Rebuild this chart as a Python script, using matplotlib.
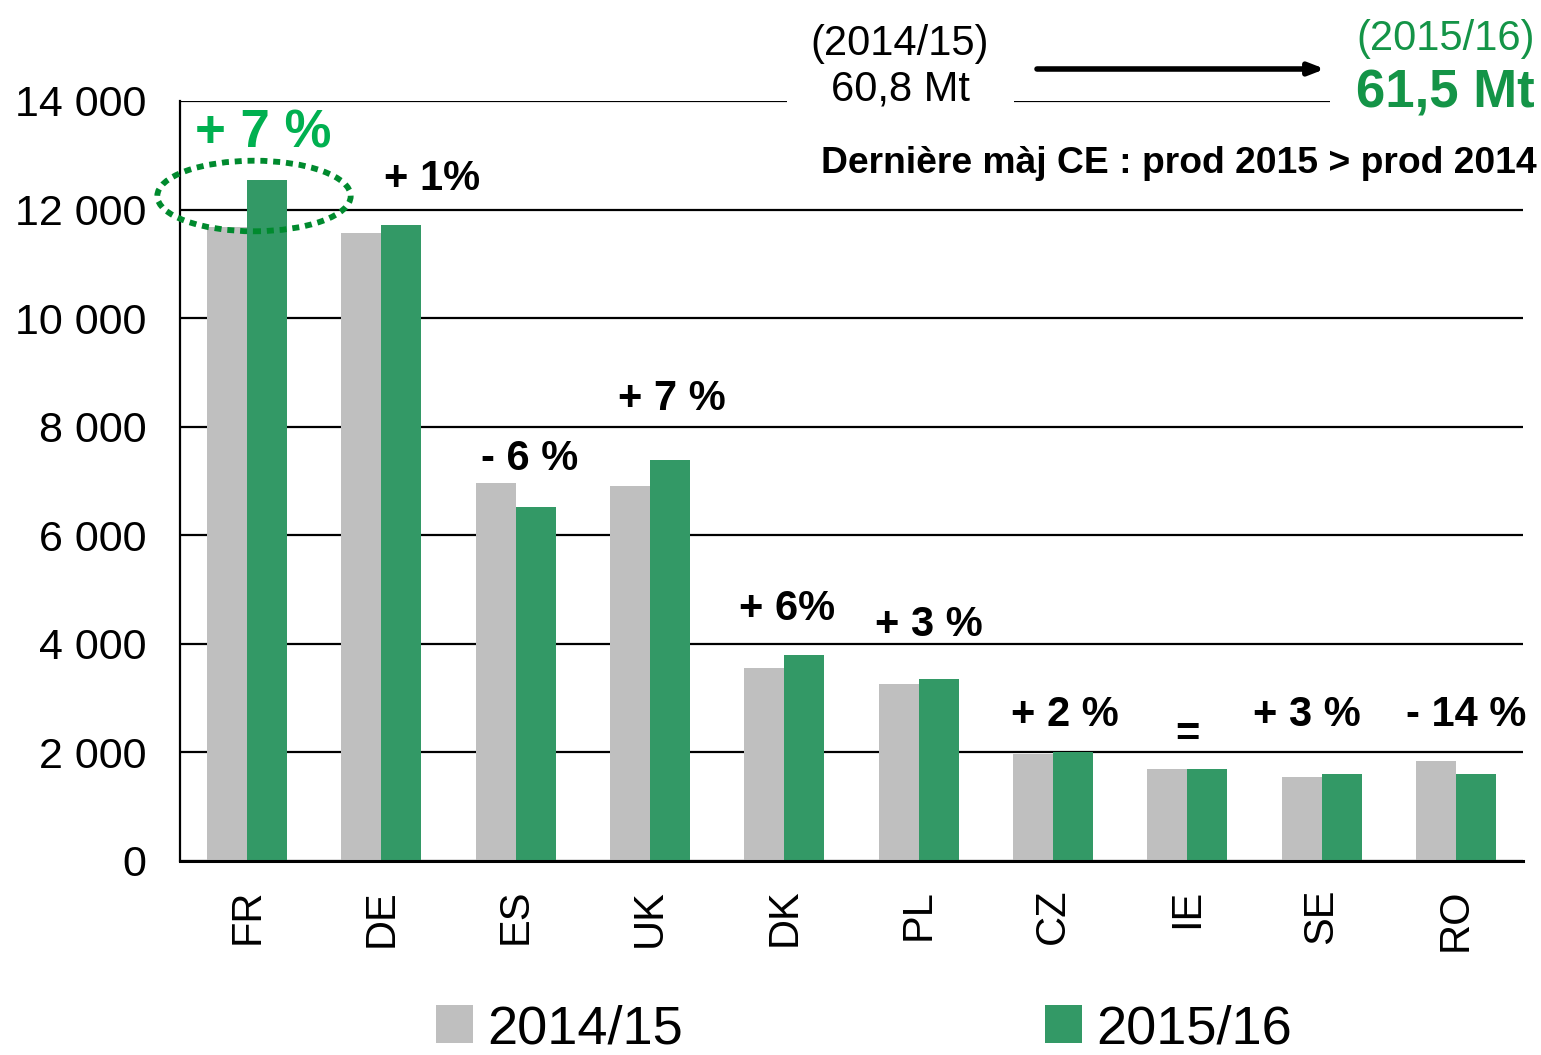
import matplotlib
matplotlib.use("Agg")
import matplotlib.pyplot as plt
from matplotlib.patches import Ellipse, Rectangle
import numpy as np

plt.rcParams['font.family'] = ['Liberation Sans', 'DejaVu Sans']

countries = ["FR", "DE", "ES", "UK", "DK", "PL", "CZ", "IE", "SE", "RO"]
prod_2014 = [11680, 11570, 6960, 6910, 3560, 3260, 1970, 1700, 1550, 1840]
prod_2015 = [12540, 11720, 6520, 7390, 3790, 3350, 2000, 1700, 1600, 1600]
series_labels = ["2014/15", "2015/16"]
change_labels = ["+ 7 %", "+ 1%", "- 6 %", "+ 7 %", "+ 6%", "+ 3 %", "+ 2 %", "=", "+ 3 %", "- 14 %"]
yticks = [0, 2000, 4000, 6000, 8000, 10000, 12000, 14000]
ytick_labels = ["0", "2 000", "4 000", "6 000", "8 000", "10 000", "12 000", "14 000"]

# label anchor positions (x in category units, y = baseline in data units)
label_x = [0.12, 1.376, 2.106, 3.163, 4.02, 5.077, 6.09, 6.998, 7.89, 9.076]
label_y = [13150, 12360, 7200, 8300, 4440, 4145, 2490, 2120, 2490, 2490]

GRAY = "#BFBFBF"
GREEN = "#339966"
BRIGHT_GREEN = "#00B050"
DARK_GREEN = "#149447"

W, H = 1541, 1055
fig = plt.figure(figsize=(W / 100, H / 100), dpi=100)
ax = fig.add_axes([180 / W, 1 - 861 / H, (1523 - 180) / W, (861 - 101) / H])

x = np.arange(len(countries))
bw = 0.298
ax.bar(x - bw / 2, prod_2014, bw, color=GRAY, label=series_labels[0], zorder=2)
ax.bar(x + bw / 2, prod_2015, bw, color=GREEN, label=series_labels[1], zorder=2)

ax.set_xlim(-0.5, 9.5)
ax.set_ylim(0, 14000)
ax.set_yticks(yticks)
ax.set_yticklabels(ytick_labels, fontsize=31)
ax.set_xticks(x)
ax.set_xticklabels(countries, rotation=90, fontsize=30)
ax.tick_params(axis='y', length=0, pad=24)
ax.tick_params(axis='x', length=0, pad=20)
ax.yaxis.grid(True, color='black', lw=1.6)
ax.set_axisbelow(True)
for s in ["top", "right"]:
    ax.spines[s].set_visible(False)
ax.spines["left"].set_linewidth(1.6)
ax.spines["bottom"].set_linewidth(2.2)

for i, (lab, lx, ly) in enumerate(zip(change_labels, label_x, label_y)):
    if i == 0:
        ax.text(lx, ly, lab, ha='center', va='baseline', fontsize=38,
                fontweight='bold', color=BRIGHT_GREEN)
    else:
        ax.text(lx, ly, lab, ha='center', va='baseline', fontsize=30,
                fontweight='bold', color='black')

ell = Ellipse((0.051, 12250), 1.44, 1300, fill=False, edgecolor="#008A2E",
              lw=4.2, linestyle=(0, (1.2, 1.0)), clip_on=False, zorder=4)
ax.add_patch(ell)

# white gaps in the top line under the header texts
for x0, x1 in [(787, 1014), (1330, 1541)]:
    fig.add_artist(Rectangle((x0 / W, 1 - 106 / H), (x1 - x0) / W, 10 / H,
                             transform=fig.transFigure, facecolor='white',
                             edgecolor='none', zorder=5))

fig.text(900 / W, 1 - 55 / H, "(2014/15)", ha='center', va='baseline', fontsize=30, zorder=6)
fig.text(900 / W, 1 - 100 / H, "60,8 Mt", ha='center', va='baseline', fontsize=30, zorder=6)
fig.text(1535 / W, 1 - 50 / H, "(2015/16)", ha='right', va='baseline', fontsize=30,
         color=DARK_GREEN, zorder=6)
fig.text(1535 / W, 1 - 107 / H, "61,5 Mt", ha='right', va='baseline', fontsize=38,
         fontweight='bold', color=DARK_GREEN, zorder=6)
fig.text(1537 / W, 1 - 173 / H, "Dernière màj CE : prod 2015 > prod 2014", ha='right',
         va='baseline', fontsize=26.8, fontweight='bold', zorder=6)

ax.annotate("", xy=(1325, H - 69), xycoords='figure pixels',
            xytext=(1037, H - 69), textcoords='figure pixels',
            arrowprops=dict(arrowstyle='-|>,head_length=0.9,head_width=0.35',
                            color='black', lw=4, shrinkA=0, shrinkB=0),
            annotation_clip=False)

leg = fig.legend(loc='center', bbox_to_anchor=(864 / W, 1 - 1029 / H), ncol=2,
                 frameon=False, fontsize=39, handlelength=0.68, handleheight=0.68,
                 handletextpad=0.26, columnspacing=6.7, borderpad=0)

fig.savefig("out.png", dpi=100)
